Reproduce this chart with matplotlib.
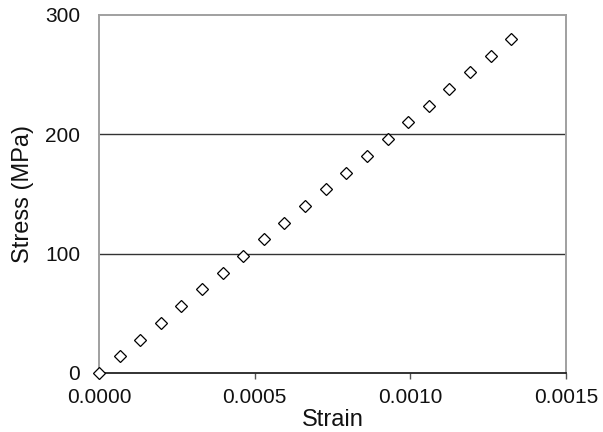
import matplotlib.pyplot as plt

plt.rcParams["font.family"] = ["Liberation Sans", "DejaVu Sans"]

# measured stress-strain points
strain = [0.0, 0.0000662, 0.0001324, 0.0001986, 0.0002648, 0.000331, 0.0003972,
          0.0004634, 0.0005296, 0.0005958, 0.000662, 0.0007282, 0.0007944,
          0.0008606, 0.0009268, 0.000993, 0.0010592, 0.0011254, 0.0011916,
          0.0012578, 0.001324]
stress = [0, 14, 28, 42, 56, 70, 84, 98, 112, 126, 140, 154, 168, 182, 196,
          210, 224, 238, 252, 266, 280]

x_ticks = [0.0, 0.0005, 0.0010, 0.0015]
x_tick_labels = ["0.0000", "0.0005", "0.0010", "0.0015"]
y_ticks = [0, 100, 200, 300]

fig = plt.figure(figsize=(6.03, 4.32), dpi=100)
ax = fig.add_axes([0.1642, 0.1366, 0.7744, 0.8287])

ax.plot(strain, stress, linestyle="none", marker="D", markersize=6.3,
        markerfacecolor="white", markeredgecolor="black", markeredgewidth=0.9,
        clip_on=False, zorder=3)

ax.set_xlim(0, 0.0015)
ax.set_ylim(0, 300)
ax.set_xticks(x_ticks)
ax.set_xticklabels(x_tick_labels)
ax.set_yticks(y_ticks)

for y in y_ticks[1:-1]:
    ax.axhline(y, color="#333333", linewidth=1.0, zorder=1)

for side in ["left", "right", "top"]:
    ax.spines[side].set_color("#a0a0a0")
    ax.spines[side].set_linewidth(1.4)
ax.spines["bottom"].set_color("#222222")
ax.spines["bottom"].set_linewidth(1.3)

ax.tick_params(axis="x", direction="out", length=4, width=1, color="#555555",
               labelsize=15, pad=7, labelcolor="#111111")
ax.tick_params(axis="y", length=0, labelsize=15, pad=13.5, labelcolor="#111111")

ax.set_xlabel("Strain", fontsize=17, labelpad=1, color="#111111")
ax.set_ylabel("Stress (MPa)", fontsize=17, labelpad=8, color="#111111")

fig.savefig("out.png", dpi=100)
